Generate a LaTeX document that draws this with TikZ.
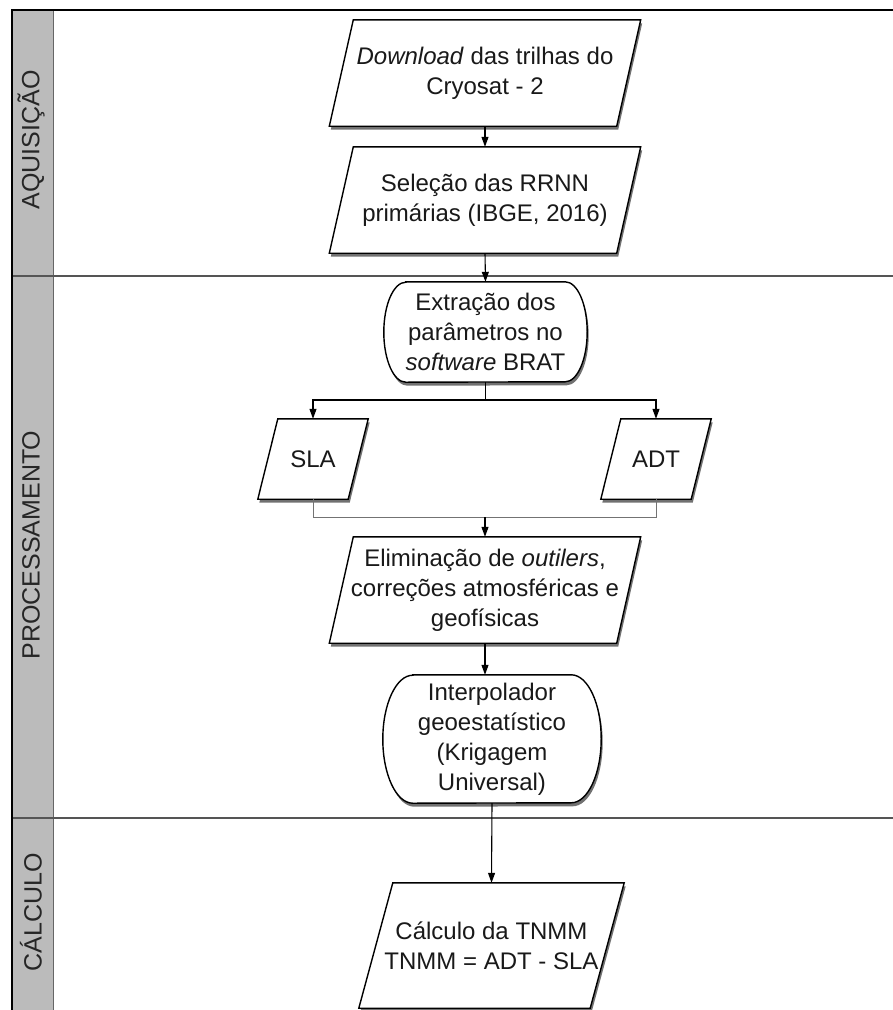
\documentclass[tikz,border=0pt]{standalone}
\usepackage{fontspec}
\setmainfont{Liberation Sans}
\usetikzlibrary{arrows.meta,shadows,calc}
\pgfdeclarelayer{lanes}
\pgfdeclarelayer{shapes}
\pgfsetlayers{lanes,shapes,main}
\definecolor{lanegray}{RGB}{187,187,187}
\definecolor{divgray}{RGB}{85,85,85}
\tikzset{
  txt/.style={font=\fontsize{24}{30}\selectfont, align=center, inner sep=0pt, text=black!90},
  box/.style={draw=black, line width=1.4pt, fill=white,
    drop shadow={shadow xshift=1.5pt, shadow yshift=-3.5pt, fill=black!65, opacity=0.85}},
  arr/.style={line width=1.1pt, -{Triangle[length=10pt,width=7pt]}},
  thinline/.style={line width=0.9pt, draw=black!55},
  lanelbl/.style={font=\fontsize{25}{25}\selectfont, rotate=90, text=black!85, inner sep=0pt},
  divider/.style={line width=2pt, draw=divgray},
}
\newcommand{\parabox}[2]{\path[box] ([xshift=#2]#1.north west) -- ([xshift=#2]#1.north east) -- ([xshift=-#2]#1.south east) -- ([xshift=-#2]#1.south west) -- cycle;}
\newcommand{\rndbox}[3]{\path[box] ([xshift=#2]#1.north west) -- ([xshift=-#2]#1.north east) arc[start angle=90,end angle=-90,x radius=#2,y radius=#3] -- ([xshift=#2]#1.south west) arc[start angle=270,end angle=90,x radius=#2,y radius=#3] -- cycle;}
\begin{document}
\begin{tikzpicture}[x=1pt,y=-1pt]
\useasboundingbox (0,0) rectangle (893,1010);
% lanes
\begin{pgfonlayer}{lanes}
\fill[white] (0,0) rectangle (893,1010);
\fill[lanegray] (12,10) rectangle (53,1015);
\draw[line width=1pt, draw=black!60] (53,10) -- (53,1015);
\draw[divider] (12,276) -- (900,276);
\draw[divider] (12,818) -- (900,818);
\draw[line width=1.6pt] (900,10) -- (12,10) -- (12,1015);
\end{pgfonlayer}
\node[lanelbl] (l1) at (31,140) {AQUISIÇÃO};
\node[lanelbl] (l2) at (31,545) {PROCESSAMENTO};
\node[lanelbl] (l3) at (31,912) {CÁLCULO};
% nodes
\node[txt, minimum width=287pt, minimum height=106pt] (b1) at (485,73) {\textit{Download} das trilhas do\\Cryosat - 2};
\node[txt, minimum width=287pt, minimum height=106pt] (b2) at (485,200) {Seleção das RRNN\\primárias (IBGE, 2016)};
\node[txt, minimum width=203pt, minimum height=100pt] (b3) at (485.5,332) {Extração dos\\parâmetros no\\\textit{software} BRAT};
\node[txt, minimum width=90pt, minimum height=80pt] (sla) at (313,459) {SLA};
\node[txt, minimum width=90pt, minimum height=80pt] (adt) at (656,459) {ADT};
\node[txt, minimum width=287pt, minimum height=106pt] (b4) at (485,590) {Eliminação de \textit{outilers},\\correções atmosféricas e\\geofísicas};
\node[txt, minimum width=218pt, minimum height=128pt] (b5) at (492,739) {Interpolador\\geoestatístico\\(Krigagem\\Universal)};
\node[txt, minimum width=231pt, minimum height=125pt] (b6) at (491.5,945.5) {Cálculo da TNMM\\TNMM = ADT - SLA};
% shapes
\begin{pgfonlayer}{shapes}
\parabox{b1}{12pt}
\parabox{b2}{12pt}
\rndbox{b3}{22pt}{50pt}
\parabox{sla}{10pt}
\parabox{adt}{10pt}
\parabox{b4}{12pt}
\rndbox{b5}{30pt}{64pt}
\parabox{b6}{17pt}
\end{pgfonlayer}
% connectors
\coordinate (br) at (485.5,400);
\coordinate (mg) at (485,517);
\draw[arr] (b1.south) -- (b2.north);
\draw[arr] (b2.south) -- (b3.north);
\draw[line width=1.1pt] (b3.south) -- (br);
\draw[arr] (br) -| (sla.north);
\draw[arr] (br) -| (adt.north);
\draw[thinline] (sla.south) |- (mg);
\draw[thinline] (adt.south) |- (mg);
\draw[arr] (mg) -- (b4.north);
\draw[arr] (b4.south) -- (b4.south |- b5.north);
\draw[arr] (b5.south) -- (b6.north);
\end{tikzpicture}
\end{document}
